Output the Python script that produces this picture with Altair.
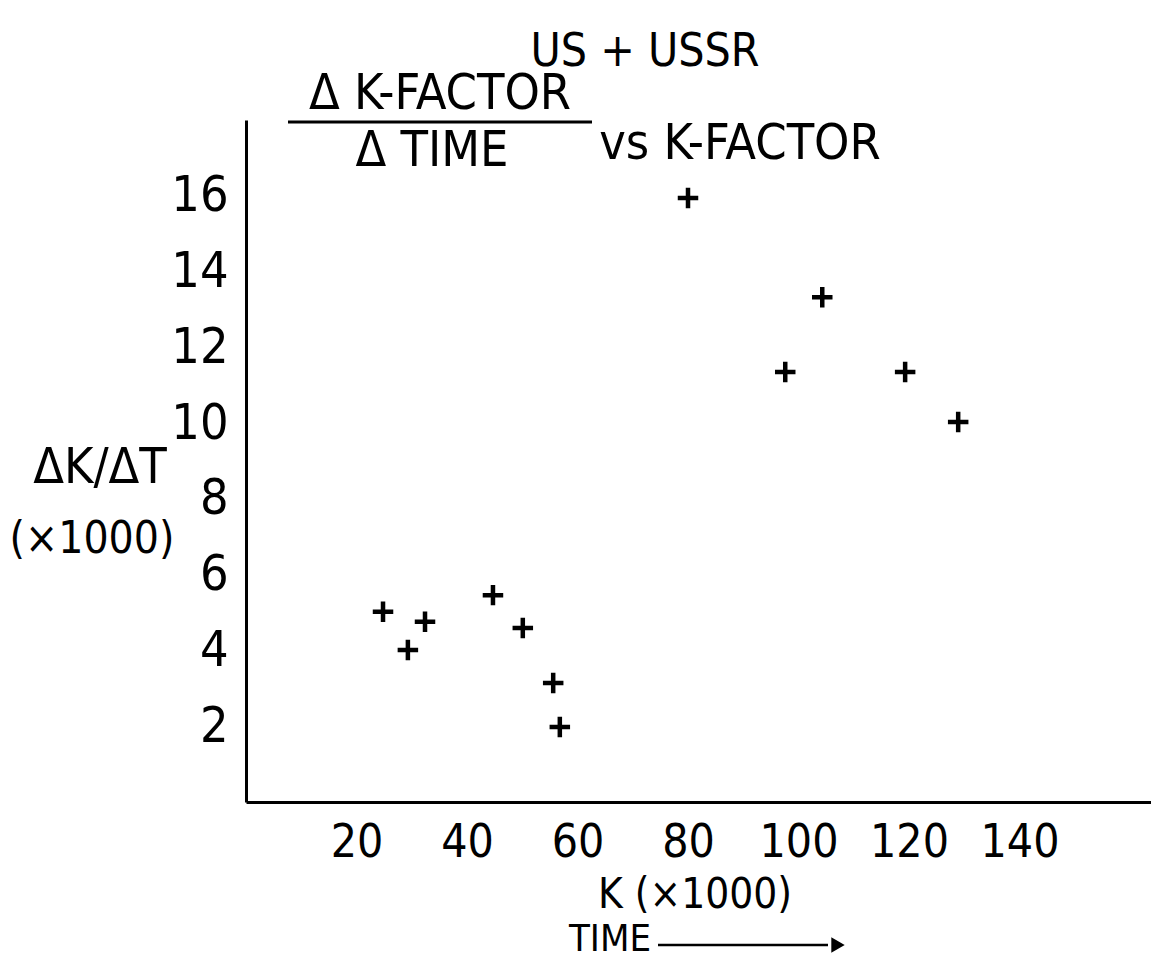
import altair as alt
import pandas as pd

# Data
k_factor = [24.8, 29.3, 32.4, 44.7, 50.1, 55.6, 56.8, 80.0, 97.6, 104.3, 119.3, 128.9]
dk_dt = [5.02, 4.01, 4.76, 5.46, 4.59, 3.14, 1.98, 15.94, 11.35, 13.32, 11.35, 10.03]
x_ticks = [20, 40, 60, 80, 100, 120, 140]
y_ticks = [2, 4, 6, 8, 10, 12, 14, 16]

FONT = "DejaVu Sans Condensed, sans-serif"
W, H = 905, 682

df = pd.DataFrame({"k": k_factor, "dkdt": dk_dt})

plus = "M-1,0H1M0,-1V1"

points = alt.Chart(df).mark_point(
    shape=plus, filled=False, stroke="black", strokeWidth=4.5, size=420, opacity=1
).encode(
    x=alt.X("k:Q", scale=alt.Scale(domain=[0, 163.8], nice=False, zero=False),
            axis=alt.Axis(values=x_ticks, title=None, grid=False, ticks=False,
                          domainWidth=3, domainColor="black", labelFont=FONT,
                          labelFontSize=46, labelColor="black", labelPadding=18,
                          labelBaseline="top")),
    y=alt.Y("dkdt:Q", scale=alt.Scale(domain=[0, 18], nice=False, zero=False),
            axis=alt.Axis(values=y_ticks, title=None, grid=False, ticks=False,
                          domainWidth=3, domainColor="black", labelFont=FONT,
                          labelFontSize=50, labelColor="black", labelPadding=18)),
)


def txt(s, x, y, size, align="center"):
    return alt.Chart(pd.DataFrame({"t": [s]})).mark_text(
        font=FONT, fontSize=size, color="black", align=align, baseline="middle"
    ).encode(text="t:N", x=alt.value(x), y=alt.value(y))


annotations = [
    txt("US + USSR", 399, -68, 46),
    txt("Δ K-FACTOR", 194, -26, 50),
    txt("Δ TIME", 186, 31, 50),
    txt("vs K-FACTOR", 494, 24, 50),
    txt("ΔK/ΔT", -146, 348, 50),
    txt("(×1000)", -154, 420, 44),
    txt("K (×1000)", 449, 775, 42),
    txt("TIME", 364, 820, 38),
]

frac_line = alt.Chart(pd.DataFrame({"a": [0]})).mark_rule(
    color="black", strokeWidth=3
).encode(x=alt.value(42), x2=alt.value(346), y=alt.value(2))

arrow_line = alt.Chart(pd.DataFrame({"a": [0]})).mark_rule(
    color="black", strokeWidth=2.5
).encode(x=alt.value(412), x2=alt.value(582), y=alt.value(825))

arrow_head = alt.Chart(pd.DataFrame({"a": [0]})).mark_point(
    shape="triangle-right", filled=True, color="black", size=240, opacity=1
).encode(x=alt.value(592), y=alt.value(825))

chart = alt.layer(points, frac_line, arrow_line, arrow_head, *annotations).properties(
    width=W, height=H,
    background="white",
    autosize=alt.AutoSizeParams(type="none"),
    padding={"left": 238, "top": 112, "right": 0, "bottom": 158},
).configure_view(stroke=None)

chart.save("out.html", embed_options={"renderer": "svg", "actions": False})
